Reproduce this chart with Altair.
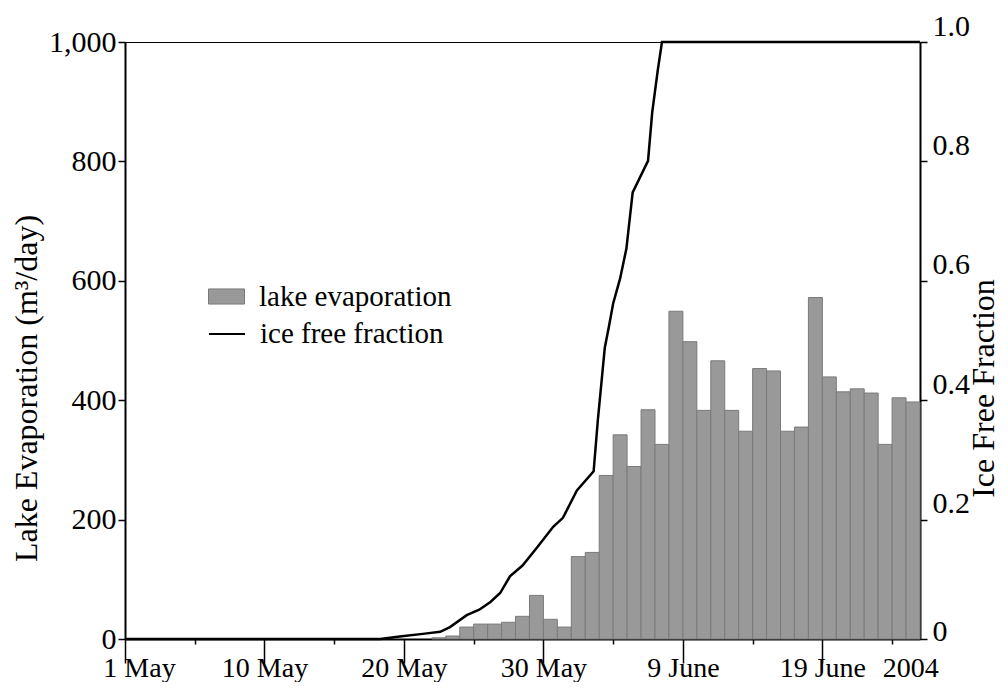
import altair as alt
import pandas as pd

# ---- data ----
# day index 0 = 1 May (axis origin); bars cover [day, day+1]
evap_days = list(range(22, 57))
evap_values = [2, 5, 20, 25, 25, 28, 38, 73, 33, 20,
               138, 145, 274, 342, 289, 384, 326, 549, 498, 383,
               466, 383, 348, 453, 449, 348, 355, 572, 439, 414,
               419, 412, 326, 404, 397]

ice_days = [0, 18.3, 19.7, 21.5, 22.6, 23.3, 24.5, 25.4, 26.2, 26.9,
            27.6, 28.5, 29.5, 30.7, 31.4, 32.4, 33.6, 33.9, 34.4, 34.7,
            35.0, 35.5, 35.95, 36.4, 37.5, 37.8, 38.2, 38.5, 57]
ice_frac = [0, 0, 0.004, 0.009, 0.012, 0.02, 0.04, 0.049, 0.062, 0.077,
            0.105, 0.123, 0.152, 0.188, 0.203, 0.249, 0.281, 0.366, 0.488, 0.524,
            0.562, 0.604, 0.654, 0.748, 0.801, 0.882, 0.953, 1.0, 1.0]

tick_values = [0, 5, 10, 15, 20, 25, 30, 35, 40, 45, 50, 55, 56.3]
label_values = [0, 10, 20, 30, 40, 50, 56.3]
label_texts = ["1 May", "10 May", "20 May", "30 May", "9 June", "19 June", "2004"]

evap_ticks = [0, 200, 400, 600, 800, 1000]
ice_ticks = [0, 0.2, 0.4, 0.6, 0.8, 1.0]

series_names = ["lake evaporation", "ice free fraction"]

bars = pd.DataFrame({
    "day": evap_days,
    "day_end": [d + 1 for d in evap_days],
    "evap": evap_values,
    "series": series_names[0],
})
line = pd.DataFrame({"day": ice_days, "frac": ice_frac, "series2": series_names[1]})

FONT = "Liberation Serif"
XFS = 28     # x tick labels
YFS = 30     # y tick labels
LFS = 29     # legend labels
TFS = 32     # axis titles

label_expr = " : ".join(
    f"datum.value === {v} ? '{t}'" for v, t in zip(label_values, label_texts)
) + " : ''"

x_scale = alt.Scale(domain=[0, 57], nice=False, zero=False)

x_axis = alt.Axis(
    values=tick_values,
    labelExpr=label_expr,
    tickSize={"condition": [{"test": "datum.value > 56", "value": 0},
                            {"test": "datum.value % 10 === 0", "value": 24}],
              "value": 5},
    labelPadding={"condition": {"test": "datum.value > 56", "value": 15}, "value": -9},
    labelOffset={"condition": {"test": "datum.value === 0", "value": 14}, "value": 0},
    labelFont=FONT, labelFontSize=XFS, labelColor="black",
    domainColor="black", domainWidth=2, tickColor="black", tickWidth=1.5,
    grid=False, title=None, labelOverlap=False, labelFlush=False, labelBound=False,
)

left_axis = alt.Axis(
    values=evap_ticks, format=",d",
    title="Lake Evaporation (m³/day)",
    titleFont=FONT, titleFontSize=TFS, titleFontWeight="normal", titleColor="black",
    titleAngle=270, titleX=-99, titleY=346, titleAlign="center", titleBaseline="middle",
    labelFont=FONT, labelFontSize=YFS, labelColor="black",
    tickSize=7, tickColor="black", tickWidth=1.5, labelPadding=2,
    domainColor="black", domainWidth=2, grid=False,
)

right_axis = alt.Axis(
    orient="right", values=ice_ticks,
    labelExpr="datum.value === 0 ? '0' : format(datum.value, '.1f')",
    title="Ice Free Fraction",
    titleFont=FONT, titleFontSize=TFS, titleFontWeight="normal", titleColor="black",
    titleAngle=270, titleX=63, titleY=346, titleAlign="center", titleBaseline="middle",
    labelFont=FONT, labelFontSize=YFS, labelColor="black",
    labelOffset={"condition": {"test": "datum.value === 0", "value": -8},
                 "value": -16},
    tickSize=7, tickColor="black", tickWidth=1.5, labelPadding=5,
    domainColor="black", domainWidth=2, grid=False,
)

bar_layer = alt.Chart(bars).mark_bar(stroke="#7a7a7a", strokeWidth=1).encode(
    x=alt.X("day:Q", scale=x_scale, axis=x_axis),
    x2="day_end:Q",
    y=alt.Y("evap:Q", scale=alt.Scale(domain=[0, 1000], nice=False), axis=left_axis),
    y2=alt.datum(0),
    fill=alt.Fill(
        "series:N",
        scale=alt.Scale(domain=[series_names[0]], range=["#999999"]),
        legend=alt.Legend(
            orient="none", legendX=83, legendY=236, title=None, padding=0,
            symbolType="M-1,-0.42H1V0.42H-1Z", symbolSize=1296,
            symbolStrokeColor="#7a7a7a", symbolStrokeWidth=1, symbolOpacity=1,
            labelFont=FONT, labelFontSize=LFS, labelColor="black", labelOffset=14,
            labelLimit=500,
        ),
    ),
)

line_layer = alt.Chart(line).mark_line(strokeWidth=2.5).encode(
    x=alt.X("day:Q", scale=x_scale),
    y=alt.Y("frac:Q", scale=alt.Scale(domain=[0, 1], nice=False), axis=right_axis),
    stroke=alt.Stroke(
        "series2:N",
        scale=alt.Scale(domain=[series_names[1]], range=["black"]),
        legend=alt.Legend(
            orient="none", legendX=83, legendY=273, title=None, padding=0,
            symbolType="stroke", symbolSize=1296, symbolStrokeWidth=2,
            labelFont=FONT, labelFontSize=LFS, labelColor="black", labelOffset=14,
            labelLimit=500,
        ),
    ),
)

chart = (
    alt.layer(bar_layer, line_layer)
    .resolve_scale(y="independent")
    .properties(
        width=795, height=597,
        autosize=alt.AutoSizeParams(type="none"),
        padding={"left": 117, "top": 34, "right": 80, "bottom": 43},
        background="white",
    )
    .configure_view(stroke="black", strokeWidth=1)
)

chart.save("out.html", embed_options={"renderer": "svg", "actions": False})
